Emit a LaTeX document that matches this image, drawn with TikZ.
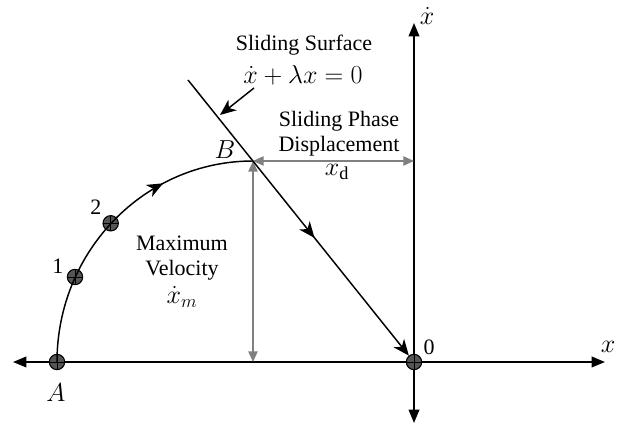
\RequirePackage{fix-cm}
\documentclass[tikz,border=0pt]{standalone}
\usepackage{fontspec}
\setmainfont{Liberation Serif}
\usetikzlibrary{arrows.meta,decorations.markings}
\tikzset{
  ln/.style={line width=1.1pt, black},
  gr/.style={line width=1.1pt, draw={rgb,255:red,128;green,128;blue,128}, {Triangle[length=8pt,width=7pt]}-{Triangle[length=8pt,width=7pt]}},
  axarrow/.style={ln, {Triangle[length=10pt,width=8pt]}-{Triangle[length=10pt,width=8pt]}},
  dot/.style={circle, draw=black, line width=0.8pt, fill={rgb,255:red,85;green,85;blue,85}, minimum size=11.5pt, inner sep=0pt,
    path picture={\draw[black, line width=0.6pt] (path picture bounding box.north) -- (path picture bounding box.south) (path picture bounding box.west) -- (path picture bounding box.east);}},
  lbl/.style={font=\fontsize{16.5}{19}\selectfont, inner sep=0pt, align=center},
  mlbl/.style={font=\fontsize{19.5}{22}\selectfont, inner sep=0pt, align=center},
}
\begin{document}
\begin{tikzpicture}[x=0.75pt, y=-0.75pt]
\useasboundingbox (0,0) rectangle (619,427);
% coordinates
\coordinate (L) at (13,362);
\coordinate (R) at (605,362);
\coordinate (T) at (414,23);
\coordinate (D) at (414,423);
\coordinate (B) at (253,161);
\coordinate (Bax) at (414,161);
\coordinate (Bft) at (253,362);
\coordinate (S) at (188,80);
\coordinate (P1) at (254,88);
\coordinate (P2) at (220,115);
% axes
\draw[axarrow] (L) -- (R);
\draw[axarrow] (D) -- (T);
% gray dimension arrows
\draw[gr] (B) -- (Bax);
\draw[gr] (B) -- (Bft);
% dots
\node[dot] (dA) at (57,362) {};
\node[dot] (d1) at (75,277) {};
\node[dot] (d2) at (110.7,223.3) {};
\node[dot] (dO) at (414,362) {};
% arc A -> B
\draw[ln, postaction={decorate}, decoration={markings, mark=at position 0.7 with {\arrow{Stealth[length=12pt,width=10pt,inset=3.5pt]}}}]
  (dA.center) arc[start angle=180, end angle=270, x radius=196, y radius=201];
% sliding line
\draw[ln, -{Stealth[length=12pt,width=10pt,inset=3.5pt]}, postaction={decorate}, decoration={markings, mark=at position 0.573 with {\arrow{Stealth[length=12pt,width=10pt,inset=3.5pt]}}}]
  (S) -- (dO);
% pointer
\draw[ln, -{Stealth[length=12pt,width=10pt,inset=3.5pt]}] (P1) -- (P2);
% labels
\node[lbl] (t1) at (304,45) {Sliding Surface};
\node[mlbl] (t2) at (303,75) {$\dot{x}+\lambda x=0$};
\node[lbl] (t3) at (339,121) {Sliding Phase};
\node[lbl] (t4) at (339,146) {Displacement};
\node[mlbl] (t5) at (337,172) {$x_{\mathrm{d}}$};
\node[lbl] (t6) at (182,243) {Maximum};
\node[lbl] (t7) at (182,270) {Velocity};
\node[mlbl] (t8) at (182,297) {$\dot{x}_m$};
\node[lbl] (n1) at (58,266) {1};
\node[lbl] (n2) at (96,207) {2};
\node[mlbl] (lA) at (56,393) {$A$};
\node[mlbl] (lB) at (225,150) {$B$};
\node[lbl] (l0) at (429,347) {0};
\node[mlbl] (lx) at (608,347) {$x$};
\node[mlbl] (ly) at (427,16) {$\dot{x}$};
\end{tikzpicture}
\end{document}
